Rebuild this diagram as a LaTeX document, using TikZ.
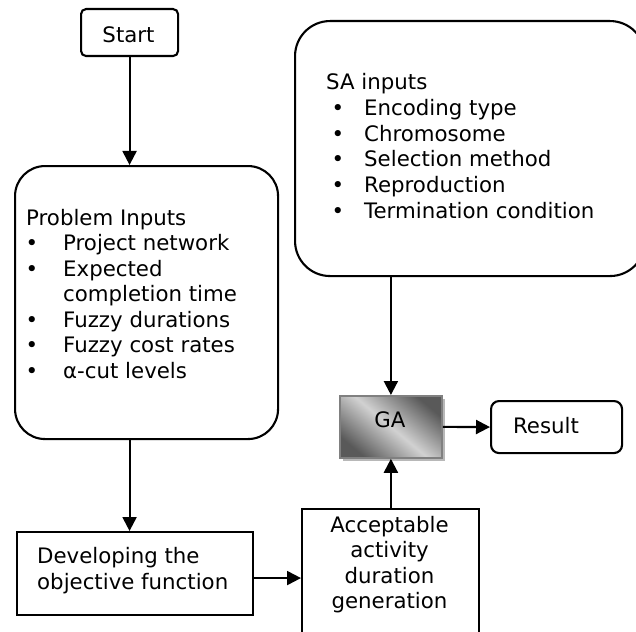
\documentclass[tikz,border=0pt]{standalone}
\usepackage{fontspec}
\setmainfont{DejaVu Sans}
\usetikzlibrary{arrows.meta,shadows}
\begin{document}
\begin{tikzpicture}[x=1pt,y=-1pt,
  box/.style={draw,line width=2.1pt,inner sep=0pt,anchor=north west},
  arr/.style={line width=2.1pt,-{Triangle[length=14pt,width=14pt]}},
  txt/.style={anchor=base west,inner sep=0pt,font=\fontsize{21.3}{25}\selectfont},
  ctxt/.style={anchor=base,inner sep=0pt,font=\fontsize{21.3}{25}\selectfont},
  bul/.style={anchor=base,inner sep=0pt,font=\fontsize{21.3}{25}\selectfont}]
\useasboundingbox (0,0) rectangle (636,631);
\clip (0,0) rectangle (636,631);
% boxes
\node[box,rounded corners=5pt,minimum width=97pt,minimum height=47pt] (start) at (80,8) {};
\node[ctxt] (starttxt) at (128.5,43) {Start};
\node[box,rounded corners=30pt,minimum width=263pt,minimum height=273pt] (prob) at (14,165) {};
\node[box,rounded corners=35pt,minimum width=350pt,minimum height=255pt] (sa) at (294,20) {};
\node[box,minimum width=236pt,minimum height=83pt] (dev) at (16,531) {};
\node[box,minimum width=177pt,minimum height=140pt] (acc) at (301,508) {};
\node[box,draw=black!50,line width=1.8pt,top color=black!65,bottom color=black!65,middle color=black!18,shading angle=-40,
  drop shadow={shadow xshift=3.5pt,shadow yshift=-3.5pt,fill=black!28,opacity=1},
  minimum width=102pt,minimum height=62pt] (ga) at (339,395) {};
\node[ctxt] (gatxt) at (390,427) {GA};
\node[box,rounded corners=8pt,minimum width=131pt,minimum height=52pt] (result) at (490,400) {};
\node[ctxt] (resulttxt) at (546,433) {Result};
% problem inputs text
\node[txt] (p0) at (26,225) {Problem Inputs};
\node[bul] (pb1) at (32,250.5) {•};
\node[txt] (p1) at (63,250.5) {Project network};
\node[bul] (pb2) at (32,276) {•};
\node[txt] (p2) at (63,276) {Expected};
\node[txt] (p3) at (63,301.5) {completion time};
\node[bul] (pb4) at (32,327) {•};
\node[txt] (p4) at (63,327) {Fuzzy durations};
\node[bul] (pb5) at (32,352.5) {•};
\node[txt] (p5) at (63,352.5) {Fuzzy cost rates};
\node[bul] (pb6) at (32,378) {•};
\node[txt] (p6) at (63,378) {α-cut levels};
% SA inputs text
\node[txt] (s0) at (326,90) {SA inputs};
\node[bul] (sb1) at (338,115.7) {•};
\node[txt] (s1) at (364,115.7) {Encoding type};
\node[bul] (sb2) at (338,141.4) {•};
\node[txt] (s2) at (364,141.4) {Chromosome};
\node[bul] (sb3) at (338,167) {•};
\node[txt] (s3) at (364,167) {Selection method};
\node[bul] (sb4) at (338,192.8) {•};
\node[txt] (s4) at (364,192.8) {Reproduction};
\node[bul] (sb5) at (338,218.5) {•};
\node[txt] (s5) at (364,218.5) {Termination condition};
% developing text
\node[txt] (d1) at (37,563) {Developing the};
\node[txt] (d2) at (37,589) {objective function};
% acceptable text
\node[ctxt] (a1) at (389.5,532) {Acceptable};
\node[ctxt] (a2) at (389.5,557.5) {activity};
\node[ctxt] (a3) at (389.5,583) {duration};
\node[ctxt] (a4) at (389.5,608.5) {generation};
% connectors
\draw[arr] (start.south) -- (start.south |- prob.north);
\draw[arr] (prob.south -| start.south) -- (dev.north -| start.south);
\draw[arr] ([yshift=-4.5pt]dev.east) -- ([yshift=-4.5pt]dev.east -| acc.west);
\draw[arr] (acc.north -| ga.south) -- (ga.south);
\draw[arr] (sa.south -| ga.north) -- (ga.north);
\draw[arr] (ga.east) -- (result.west);
\end{tikzpicture}
\end{document}
